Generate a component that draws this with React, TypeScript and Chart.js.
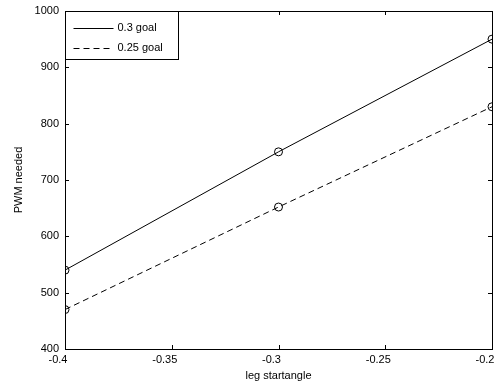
import React, { useEffect, useRef } from "react";
import { Chart, registerables } from "chart.js";
Chart.register(...registerables);

const xValues = [-0.4, -0.3, -0.2];
const goal03 = [540, 750, 950];
const goal025 = [470, 652, 830];
const seriesLabels = ["0.3 goal", "0.25 goal"];
const xTicks = [-0.4, -0.35, -0.3, -0.25, -0.2];
const yTicks = [400, 500, 600, 700, 800, 900, 1000];
const xTitle = "leg startangle";
const yTitle = "PWM needed";

const FONT = "'Liberation Sans', Arial, sans-serif";

const framePlugin = {
  id: "frame",
  afterDatasetsDraw(chart: any) {
    const { ctx, chartArea: a, scales } = chart;
    ctx.save();
    ctx.strokeStyle = "#000";
    ctx.lineWidth = 1;
    ctx.strokeRect(Math.round(a.left) + 0.5, Math.round(a.top) + 0.5, Math.round(a.right - a.left), Math.round(a.bottom - a.top));
    const tl = 4;
    ctx.beginPath();
    xTicks.forEach((v) => {
      const x = Math.round(scales.x.getPixelForValue(v)) + 0.5;
      ctx.moveTo(x, a.bottom);
      ctx.lineTo(x, a.bottom - tl);
      ctx.moveTo(x, a.top);
      ctx.lineTo(x, a.top + tl);
    });
    yTicks.forEach((v) => {
      const y = Math.round(scales.y.getPixelForValue(v)) + 0.5;
      ctx.moveTo(a.left, y);
      ctx.lineTo(a.left + tl, y);
      ctx.moveTo(a.right, y);
      ctx.lineTo(a.right - tl, y);
    });
    ctx.stroke();

    // legend box
    const lx = Math.round(a.left) + 0.5;
    const ly = Math.round(a.top) + 0.5;
    const lw = 113;
    const lh = 48;
    ctx.fillStyle = "#fff";
    ctx.fillRect(lx, ly, lw, lh);
    ctx.strokeRect(lx, ly, lw, lh);
    ctx.font = `11px ${FONT}`;
    ctx.fillStyle = "#000";
    ctx.textBaseline = "middle";
    const rows = [16.5, 36.5];
    chart.data.datasets.forEach((ds: any, i: number) => {
      const y = ly + rows[i];
      ctx.beginPath();
      ctx.setLineDash(ds.borderDash || []);
      ctx.moveTo(lx + 8, Math.round(y) + 0.5);
      ctx.lineTo(lx + 48, Math.round(y) + 0.5);
      ctx.stroke();
      ctx.setLineDash([]);
      ctx.fillText(ds.label, lx + 52, y);
    });
    ctx.restore();
  },
};

export default function App() {
  const ref = useRef<HTMLCanvasElement>(null);
  useEffect(() => {
    if (!ref.current) return;
    const mk = (vals: number[]) => xValues.map((x, i) => ({ x, y: vals[i] }));
    const chart = new Chart(ref.current, {
      type: "line",
      data: {
        datasets: [
          {
            label: seriesLabels[0],
            data: mk(goal03),
            borderColor: "#000",
            borderWidth: 1,
            pointRadius: 4,
            pointBorderWidth: 1,
            pointBorderColor: "#000",
            pointBackgroundColor: "rgba(0,0,0,0)",
            fill: false,
            tension: 0,
          },
          {
            label: seriesLabels[1],
            data: mk(goal025),
            borderColor: "#000",
            borderWidth: 1,
            borderDash: [6, 4],
            pointRadius: 4,
            pointBorderWidth: 1,
            pointBorderColor: "#000",
            pointBackgroundColor: "rgba(0,0,0,0)",
            fill: false,
            tension: 0,
          },
        ],
      },
      options: {
        responsive: false,
        animation: false,
        layout: { padding: { left: 0, top: 11, right: 3, bottom: 0 } },
        plugins: { legend: { display: false }, tooltip: { enabled: false } },
        scales: {
          x: {
            type: "linear",
            min: -0.4,
            max: -0.2,
            grid: { display: false, drawTicks: false },
            border: { display: false },
            afterBuildTicks: (s: any) => {
              s.ticks = xTicks.map((v) => ({ value: v }));
            },
            afterFit: (s: any) => {
              s.height = 38;
              s.paddingLeft = 0;
              s.paddingRight = 0;
            },
            ticks: {
              padding: 4,
              labelOffset: -7,
              color: "#000",
              font: { family: FONT, size: 11 },
              maxRotation: 0,
              callback: (v: any) => String(parseFloat(Number(v).toFixed(2))),
            },
            title: {
              display: true,
              text: xTitle,
              color: "#000",
              font: { family: FONT, size: 11 },
              padding: { top: 0, bottom: 4 },
            },
          },
          y: {
            type: "linear",
            min: 400,
            max: 1000,
            grid: { display: false, drawTicks: false },
            border: { display: false },
            afterBuildTicks: (s: any) => {
              s.ticks = yTicks.map((v) => ({ value: v }));
            },
            afterFit: (s: any) => {
              s.width = 65;
              s.paddingTop = 0;
              s.paddingBottom = 0;
            },
            ticks: {
              padding: 6,
              color: "#000",
              font: { family: FONT, size: 11 },
              callback: (v: any) => String(v),
            },
            title: {
              display: true,
              text: yTitle,
              color: "#000",
              font: { family: FONT, size: 11 },
              padding: { top: 12, bottom: 0 },
            },
          },
        },
      },
      plugins: [framePlugin],
    });
    return () => chart.destroy();
  }, []);
  return (
    <div style={{ position: "fixed", left: 0, top: 0, width: 497, height: 387, background: "#fff" }}>
      <canvas ref={ref} width={497} height={387} style={{ display: "block" }} />
    </div>
  );
}
